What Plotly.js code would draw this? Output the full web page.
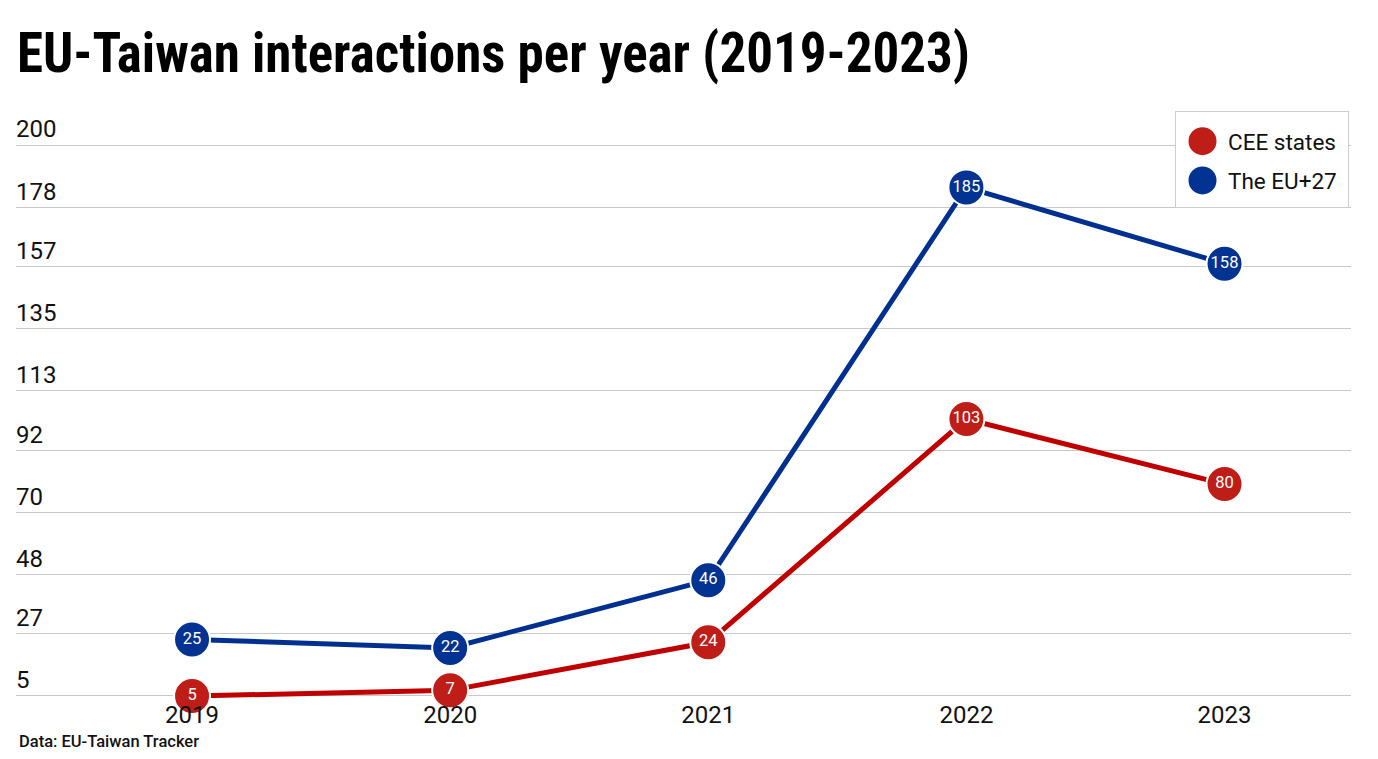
<!DOCTYPE html>
<html>
<head>
<meta charset="utf-8">
<script src="https://cdn.plot.ly/plotly-3.0.1.min.js"></script>
<style>
html,body{margin:0;padding:0;background:#fff;}
#chart{width:1378px;height:759px;}
</style>
</head>
<body>
<div id="chart"></div>
<script>
const years = [2019, 2020, 2021, 2022, 2023];
const ceeStates = [5, 7, 24, 103, 80];
const euPlus27 = [25, 22, 46, 185, 158];
const yTickVals = [5, 27, 48, 70, 92, 113, 135, 157, 178, 200];
const yTickText = ["5", "27", "48", "70", "92", "113", "135", "157", "178", "200"];
const seriesNames = ["CEE states", "The EU+27"];

const FONT = "Roboto, 'Noto Sans', sans-serif";
const COLORS = {
  ceeLine: "#c00000", ceeMarker: "#be1e17",
  euLine: "#00308f", euMarker: "#023392"
};

function series(name, ys, lineColor, markerColor) {
  return {
    type: "scatter",
    mode: "lines+markers+text",
    name: name,
    x: years,
    y: ys,
    text: ys.map(String),
    textposition: "middle center",
    textfont: {family: FONT, size: 16.5, color: "#ffffff"},
    line: {color: lineColor, width: 5},
    marker: {size: 36, color: markerColor, line: {color: "#ffffff", width: 2}},
    cliponaxis: false,
    showlegend: false,
    hoverinfo: "x+y+name"
  };
}

function legendEntry(name, markerColor, group) {
  return {
    type: "scatter",
    mode: "markers",
    name: name,
    x: [null],
    y: [null],
    legendgroup: group,
    marker: {size: 16, color: markerColor},
    showlegend: true,
    hoverinfo: "skip"
  };
}

const data = [
  series(seriesNames[0], ceeStates, COLORS.ceeLine, COLORS.ceeMarker),
  series(seriesNames[1], euPlus27, COLORS.euLine, COLORS.euMarker),
  legendEntry(seriesNames[0], COLORS.ceeMarker, "a"),
  legendEntry(seriesNames[1], COLORS.euMarker, "b")
];

const ML = 16, MR = 27, MT = 143, MB = 61, W = 1378, H = 759;
const plotW = W - ML - MR, plotH = H - MT - MB;

const layout = {
  width: W,
  height: H,
  paper_bgcolor: "#ffffff",
  plot_bgcolor: "#ffffff",
  margin: {l: ML, r: MR, t: MT, b: MB},
  font: {family: FONT, color: "#000000"},
  title: {
    text: "<b>EU-Taiwan interactions per year (2019-2023)</b>",
    font: {family: "'Roboto Condensed', 'Liberation Sans Narrow', 'DejaVu Sans Condensed', Roboto, sans-serif", size: 55, color: "#000000"},
    x: 17 / W, xanchor: "left", xref: "container",
    y: 0.905, yanchor: "bottom", yref: "container"
  },
  xaxis: {
    range: [2018.318, 2023.49],
    tickvals: years,
    ticktext: years.map(String),
    showgrid: false,
    zeroline: false,
    showline: false,
    ticks: "",
    tickfont: {family: FONT, size: 24, color: "#111111"},
    fixedrange: true
  },
  yaxis: {
    range: [4.29, 200.71],
    tickvals: yTickVals,
    ticktext: yTickText,
    showgrid: true,
    gridcolor: "#c8c8c8",
    gridwidth: 1,
    zeroline: false,
    showline: false,
    ticks: "",
    ticklen: 0,
    ticklabelposition: "inside",
    ticklabelshift: -16,
    ticklabelstandoff: -3,
    ticklabeloverflow: "allow",
    tickfont: {family: FONT, size: 24, color: "#111111"},
    fixedrange: true
  },
  showlegend: true,
  legend: {
    x: (1343 - ML) / plotW, xanchor: "right",
    y: (H - MB - 119) / plotH, yanchor: "top",
    bgcolor: "#ffffff",
    bordercolor: "#cccccc",
    borderwidth: 1,
    font: {family: FONT, size: 22.5, color: "#111111"},
    itemsizing: "trace",
    itemwidth: 42,
    tracegroupgap: 7,
    traceorder: "grouped"
  },
  annotations: [{
    text: "Data: EU-Taiwan Tracker",
    xref: "paper", yref: "paper",
    x: (17 - ML) / plotW, y: 0, xanchor: "left", yanchor: "middle",
    yshift: -(741 - (H - MB)),
    showarrow: false,
    font: {family: FONT, size: 16.5, weight: 500, color: "#111111"}
  }]
};

function circlePath(cx, r) {
  return "M" + (cx + r) + ",0A" + r + "," + r + " 0 1,1 " + cx + "," + (-r) +
         "A" + r + "," + r + " 0 0,1 " + (cx + r) + ",0Z";
}

Plotly.newPlot("chart", data, layout, {displayModeBar: false, staticPlot: true}).then(function(){
  const t = document.querySelector(".gtitle");
  if (t) {
    const w = t.getBBox().width;
    if (w > 955) {
      t.setAttribute("textLength", "953");
      t.setAttribute("lengthAdjust", "spacingAndGlyphs");
    }
  }
  const bg = document.querySelector(".legend .bg");
  let bgLeft = null;
  if (bg) {
    bgLeft = bg.getBoundingClientRect().left;
    const y = parseFloat(bg.getAttribute("y") || "0");
    const h = parseFloat(bg.getAttribute("height"));
    const w = parseFloat(bg.getAttribute("width"));
    bg.setAttribute("y", y - 8);
    bg.setAttribute("height", h + 13);
    bg.setAttribute("width", w + 6);
  }
  document.querySelectorAll(".legend .scatterpts").forEach(function(p){
    p.setAttribute("d", circlePath(0, 14));
    if (bgLeft !== null) {
      const r = p.getBoundingClientRect();
      const cur = (r.left + r.right) / 2;
      const dx = (bgLeft + 27) - cur;
      p.setAttribute("d", circlePath(dx, 14));
    }
  });
});
</script>
</body>
</html>
